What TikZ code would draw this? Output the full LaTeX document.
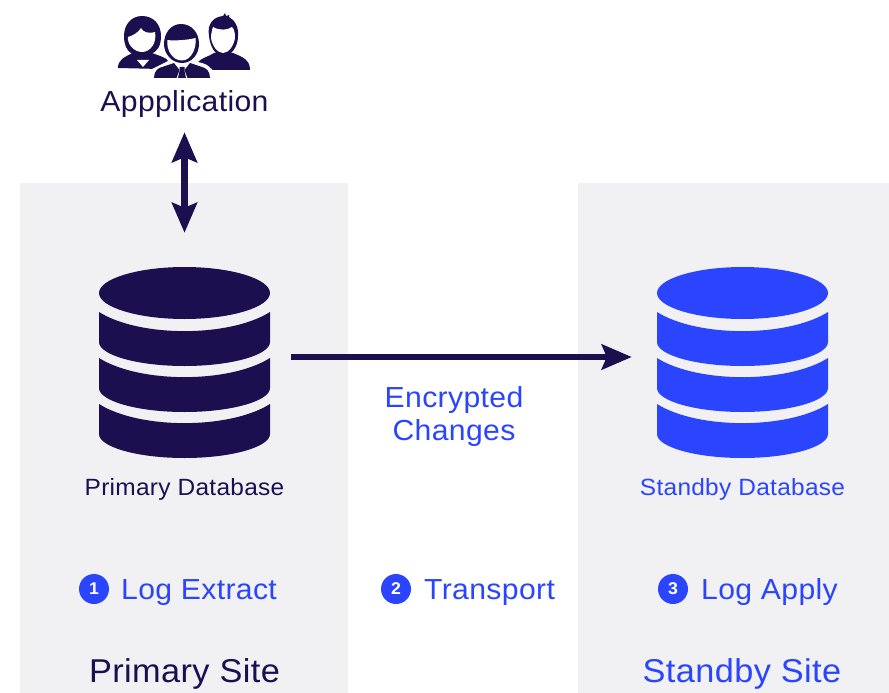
\documentclass[tikz,border=0pt]{standalone}
\usepackage{fontspec}
\setmainfont{Liberation Sans}[FakeStretch=1.04,LetterSpace=1.2]
\usetikzlibrary{arrows.meta}
\definecolor{navy}{HTML}{1B0F50}
\definecolor{bluex}{HTML}{2B45FF}
\definecolor{panel}{HTML}{F1F1F4}
\tikzset{
  x=1pt,y=-1pt,
  panelbox/.style={fill=panel,draw=none},
  lab/.style={inner sep=0pt,font=\fontsize{#1}{#1}\selectfont},
  num/.style={circle,fill=bluex,text=white,minimum size=30pt,inner sep=0pt,font=\bfseries\fontsize{17}{17}\selectfont},
  dbnode/.style={minimum width=171pt,minimum height=192pt,inner sep=0pt,draw=none},
  flow/.style={navy,line width=#1},
  bighead/.tip={Stealth[inset=5pt,length=30pt,width=25pt]},
  pics/dbstack/.style={code={
    \fill[#1] (-85.5,-70) .. controls (-85.5,-84) and (-47,-96) .. (0,-96) .. controls (47,-96) and (85.5,-84) .. (85.5,-70)
       .. controls (85.5,-56) and (47,-44) .. (0,-44) .. controls (-47,-44) and (-85.5,-56) .. (-85.5,-70) -- cycle;
    \foreach \t in {-51,-5,41}{
      \fill[#1] (-85.5,\t) .. controls (-45,\t+25.5) and (45,\t+25.5) .. (85.5,\t) -- (85.5,\t+30)
        .. controls (85.5,\t+43) and (47,\t+54) .. (0,\t+54) .. controls (-47,\t+54) and (-85.5,\t+43) .. (-85.5,\t+30) -- cycle;
    }
  }},
}
\begin{document}
\begin{tikzpicture}
\useasboundingbox (0,0) rectangle (889,693);
\fill[white] (0,0) rectangle (889,693);
\fill[panelbox] (20,183) rectangle (348,693);
\fill[panelbox] (578,183) rectangle (889,693);

% people icon
\begin{scope}[navy]
% left person
\fill (118,68) .. controls (118,60) and (124,57) .. (133,53) -- (152,53) .. controls (160,56) and (168,58) .. (172,64) -- (160,69) -- cycle;
\fill (142,16) .. controls (154,16) and (161,25) .. (161,36) .. controls (161,45) and (158,52) .. (150,54) -- (132,54) .. controls (126,50) and (124,44) .. (124,36) .. controls (124,25) and (131,16) .. (142,16) -- cycle;
\fill[white] (141,28) .. controls (143,32) and (148,34) .. (155,32) .. controls (157,42) and (151,52) .. (142,52) .. controls (134,52) and (127,44) .. (128,37) .. controls (132,36) and (138,33) .. (141,28) -- cycle;
\fill[white] (137,60) -- (149,60) -- (143,67) -- cycle;
% right person
\fill (198,62) .. controls (203,57) and (208,57) .. (214,53) -- (233,53) .. controls (243,57) and (250,60) .. (250,70) -- (211,70) .. controls (210,65) and (204,63) .. (198,62) -- cycle;
\fill (209,36) .. controls (207,24) and (213,17) .. (223,16) -- (225,13) -- (226,16) -- (229,15) -- (229,17) .. controls (235,20) and (239,28) .. (238,36) .. controls (238,46) and (232,56) .. (223,56) .. controls (215,56) and (210,46) .. (209,36) -- cycle;
\fill[white] (213,27) .. controls (220,31) and (228,30) .. (232,27) .. controls (235,30) and (235,35) .. (235,38) .. controls (234,45) and (229,53) .. (223,53) .. controls (217,53) and (212,45) .. (211,38) .. controls (211,34) and (212,30) .. (213,27) -- cycle;
% middle person: white halo, hair, face, body
\fill[white] (181,22) .. controls (194,22) and (201,32) .. (201,44) .. controls (201,51) and (198,57) .. (195,61) -- (212,69) -- (212,80) -- (152,80) -- (152,69) -- (168,61) .. controls (165,57) and (162,51) .. (162,44) .. controls (162,32) and (169,22) .. (181,22) -- cycle;
\fill (181,24) .. controls (192,24) and (199,33) .. (199,44) .. controls (199,54) and (192,63) .. (182,63) .. controls (172,63) and (164,54) .. (164,44) .. controls (164,33) and (171,24) .. (181,24) -- cycle;
\fill[white] (167.5,40) .. controls (174,41) and (188,40) .. (195.5,38) .. controls (197,46) and (192,60.5) .. (182,60.5) .. controls (172,60.5) and (166,49) .. (167.5,40) -- cycle;
\fill (154,78) .. controls (154,71) and (158,68) .. (162,67) -- (174,63) -- (179.5,70) -- (176.5,78) -- cycle;
\fill (210,78) .. controls (210,71) and (206,68) .. (202,67) -- (190,63) -- (184.5,70) -- (187.5,78) -- cycle;
\fill (179.5,67) -- (184.5,67) -- (184.5,71) -- (186,78) -- (178,78) -- (179.5,71) -- cycle;
\end{scope}

\node[lab=29,text=navy,anchor=base] (appl) at (184.5,111) {Appplication};

% databases
\node[dbnode] (pdb) at (184.5,363) {};
\node[dbnode] (sdb) at (742.5,363) {};
\pic at (184.5,363) {dbstack=navy};
\pic at (742.5,363) {dbstack=bluex};

\node[lab=23.5,text=navy,anchor=base] (plab) at (184.5,495) {Primary Database};
\node[lab=23.5,text=bluex,anchor=base] (slab) at (742.5,495) {Standby Database};

\node[lab=29,text=bluex,align=center] (enc) at (454,416) {Encrypted\\[4pt]Changes};

% steps
\node[num] (n1) at (94,589) {1};
\node[lab=29,text=bluex,anchor=base west] (t1) at (121,599) {Log Extract};
\node[num] (n2) at (396,589) {2};
\node[lab=29,text=bluex,anchor=base west] (t2) at (424,599) {Transport};
\node[num] (n3) at (673,589) {3};
\node[lab=29,text=bluex,anchor=base west] (t3) at (701,599) {Log Apply};

\node[lab=33,text=navy,anchor=base] (site1) at (184.5,682) {Primary Site};
\node[lab=33,text=bluex,anchor=base] (site2) at (742,682) {Standby Site};

% connectors
\draw[flow=6.5pt,{bighead}-{bighead},shorten <=15pt,shorten >=34pt] (appl.south -| pdb.north) -- (pdb.north);
\draw[flow=6.5pt,-{bighead},shorten <=21pt,shorten >=25pt] ([yshift=6pt]pdb.east) -- ([yshift=6pt]sdb.west);
\end{tikzpicture}
\end{document}
